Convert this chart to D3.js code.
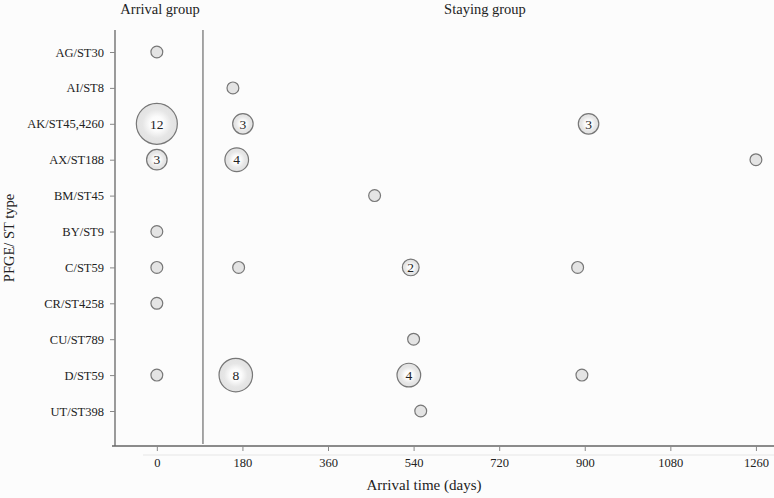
<!DOCTYPE html>
<html lang="en">
<head>
<meta charset="UTF-8">
<title>Arrival time by PFGE/ST type</title>
<script src="https://d3js.org/d3.v7.min.js"></script>
<style>
  body { margin: 0; background: #fcfcfc; }
  svg text { font-family: "Liberation Serif", "DejaVu Serif", serif; fill: #222; }
</style>
</head>
<body>
<script>
// categories on the y axis, top to bottom
const types = ["AG/ST30", "AI/ST8", "AK/ST45,4260", "AX/ST188", "BM/ST45", "BY/ST9",
  "C/ST59", "CR/ST4258", "CU/ST789", "D/ST59", "UT/ST398"];

// one entry per bubble: type, arrival day, number of isolates
const bubbleType = ["AG/ST30", "AI/ST8", "AK/ST45,4260", "AK/ST45,4260", "AK/ST45,4260",
  "AX/ST188", "AX/ST188", "AX/ST188", "BM/ST45", "BY/ST9",
  "C/ST59", "C/ST59", "C/ST59", "C/ST59", "CR/ST4258", "CU/ST789",
  "D/ST59", "D/ST59", "D/ST59", "D/ST59", "UT/ST398"];
const bubbleDay = [0, 160, 0, 181, 908,
  0, 168, 1260, 458, 0,
  0, 172, 534, 885, 0, 540,
  0, 166, 530, 894, 555];
const bubbleCount = [1, 1, 12, 3, 3,
  3, 4, 1, 1, 1,
  1, 1, 2, 1, 1, 1,
  1, 8, 4, 1, 1];

const xTicks = [0, 180, 360, 540, 720, 900, 1080, 1260];
const cutoffDay = 97;

const width = 774, height = 498;
const margin = {top: 30, right: 0, bottom: 52, left: 115};

const svg = d3.select("body").append("svg")
  .attr("width", width)
  .attr("height", height);

const grad = svg.append("defs").append("radialGradient").attr("id", "bub");
grad.append("stop").attr("offset", "0%").attr("stop-color", "#ffffff");
grad.append("stop").attr("offset", "35%").attr("stop-color", "#fbfbfb");
grad.append("stop").attr("offset", "70%").attr("stop-color", "#e6e6e6");
grad.append("stop").attr("offset", "100%").attr("stop-color", "#e2e2e2");

const x = d3.scaleLinear()
  .domain([-88, 1298])
  .range([margin.left, width - margin.right]);

const y = d3.scalePoint()
  .domain(types)
  .range([52, 411]);

const r = d3.scaleSqrt().domain([0, 12]).range([0, 20.5]);

// axes
const xAxis = svg.append("g")
  .attr("transform", `translate(0,${height - margin.bottom})`)
  .call(d3.axisBottom(x).tickValues(xTicks).tickFormat(d3.format("d")).tickSize(5).tickPadding(7));
xAxis.select(".domain").attr("stroke", "#666").attr("stroke-width", 1.3)
  .attr("d", `M${margin.left - 3},0H${width}`);
xAxis.selectAll(".tick line").attr("stroke", "#888");
xAxis.selectAll(".tick text").attr("font-size", 12.5);

svg.append("line")
  .attr("x1", 143).attr("x2", width)
  .attr("y1", height - margin.bottom + 9).attr("y2", height - margin.bottom + 9)
  .attr("stroke", "#e6e6e6");

const yAxis = svg.append("g")
  .attr("transform", `translate(${margin.left},0)`)
  .call(d3.axisLeft(y).tickSize(5).tickPadding(6));
yAxis.select(".domain").attr("stroke", "#666").attr("stroke-width", 1.3)
  .attr("d", `M0,${margin.top}V${height - margin.bottom}`);
yAxis.selectAll(".tick line").attr("stroke", "#888");
yAxis.selectAll(".tick text").attr("font-size", 12.5);

// separator between arrival and staying groups
svg.append("line")
  .attr("x1", x(cutoffDay)).attr("x2", x(cutoffDay))
  .attr("y1", margin.top).attr("y2", height - margin.bottom - 2)
  .attr("stroke", "#777").attr("stroke-width", 1.3);

// titles
svg.append("text").attr("x", 160).attr("y", 14)
  .attr("text-anchor", "middle").attr("font-size", 14.5).text("Arrival group");
svg.append("text").attr("x", 485).attr("y", 14)
  .attr("text-anchor", "middle").attr("font-size", 14.5).text("Staying group");
svg.append("text").attr("x", 424).attr("y", 490)
  .attr("text-anchor", "middle").attr("font-size", 15).text("Arrival time (days)");
svg.append("text")
  .attr("transform", `translate(14,${(margin.top + height - margin.bottom) / 2}) rotate(-90)`)
  .attr("text-anchor", "middle").attr("font-size", 14.5).text("PFGE/ ST type");

// bubbles
const bubbles = bubbleDay.map((d, i) => ({day: d, type: bubbleType[i], n: bubbleCount[i]}));

const g = svg.append("g");
const b = g.selectAll("g").data(bubbles).join("g")
  .attr("transform", d => `translate(${x(d.day)},${y(d.type)})`);
b.append("circle")
  .attr("r", d => r(d.n))
  .attr("fill", d => d.n > 1 ? "url(#bub)" : "#e4e4e4")
  .attr("stroke", "#777")
  .attr("stroke-width", 1.2);
b.filter(d => d.n > 1).append("text")
  .attr("text-anchor", "middle")
  .attr("dy", "0.35em")
  .attr("font-size", 13.5)
  .text(d => d.n);
</script>
</body>
</html>
